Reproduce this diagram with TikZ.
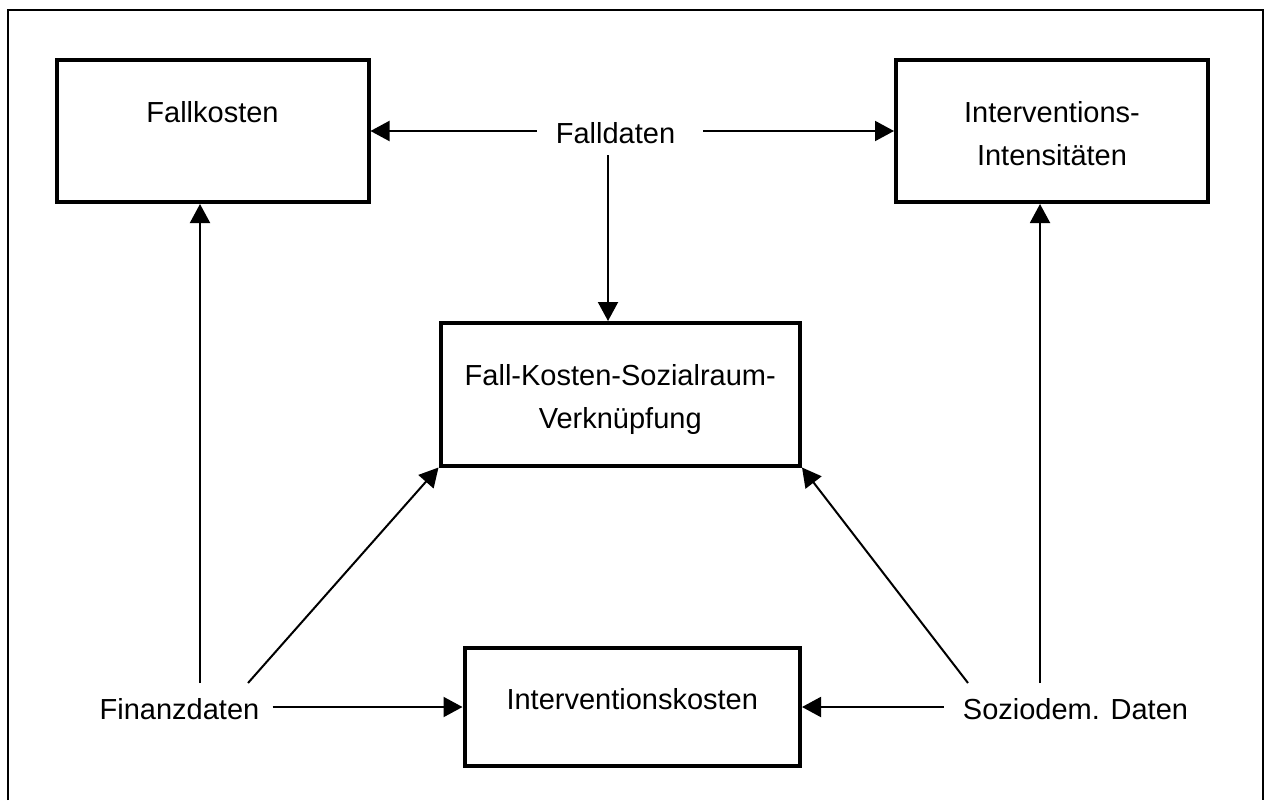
\documentclass[tikz,border=0pt]{standalone}
\usepackage{fontspec}
\setmainfont{Liberation Sans}
\usetikzlibrary{arrows.meta}

\tikzset{
  box/.style={draw, line width=4pt, rectangle, inner sep=0pt, outer sep=2pt},
  boxtext/.style={anchor=base, inner sep=0pt, align=center},
  label/.style={anchor=base, inner sep=0pt},
  arr/.style={line width=2pt, -{Triangle[length=19pt, width=20pt]}},
  frame/.style={line width=2.2pt}
}

\begin{document}
\begin{tikzpicture}[x=1pt, y=-1pt, font=\fontsize{29}{43.5}\selectfont]
  \useasboundingbox (0,0) rectangle (1268,800);

  % surrounding frame, open at the bottom
  \draw[frame] (8,800) -- (8,9.7) -- (1263,9.7) -- (1263,800);

  % boxes
  \node[box, minimum width=312pt, minimum height=142pt] (fk) at (212.5,131) {};
  \node[box, minimum width=312pt, minimum height=142pt] (ii) at (1052,131) {};
  \node[box, minimum width=359.5pt, minimum height=142.5pt] (fks) at (620.25,394.25) {};
  \node[box, minimum width=335.5pt, minimum height=118pt] (ik) at (632.25,707) {};

  % box captions (base anchor = baseline of the last line)
  \node[boxtext] (fk-t) at (212.5,122) {Fallkosten};
  \node[boxtext] (ii-t) at (1052,165.5) {Interventions-\\Intensitäten};
  \node[boxtext] (fks-t) at (620.25,428.5) {Fall-Kosten-Sozialraum-\\Verknüpfung};
  \node[boxtext] (ik-t) at (632.25,709) {Interventionskosten};

  % data sources
  \node[label] (fd) at (615.5,143) {Falldaten};
  \node[label] (fin) at (179.5,719) {Finanzdaten};
  \node[label] (soz) at (1075.5,719) {Soziodem. Daten};

  % connector start points
  \coordinate (fd-down) at (608,155);
  \coordinate (fin-up) at (200,683);
  \coordinate (fin-diag) at (248,683);
  \coordinate (soz-diag) at (968,683);
  \coordinate (soz-up) at (1040,683);

  % connectors
  \draw[arr, shorten <=19pt] (fd.west |- fk.east) -- (fk.east);
  \draw[arr, shorten <=28pt] (fd.east |- ii.west) -- (ii.west);
  \draw[arr] (fd-down) -- (fd-down |- fks.north);

  \draw[arr] (fin-up) -- (fin-up |- fk.south);
  \draw[arr] (fin-diag) -- (fks.south west);
  \draw[arr, shorten <=13pt] (fin.east |- ik.west) -- (ik.west);

  \draw[arr] (soz-up) -- (soz-up |- ii.south);
  \draw[arr] (soz-diag) -- (fks.south east);
  \draw[arr, shorten <=19pt] (soz.west |- ik.east) -- (ik.east);
\end{tikzpicture}
\end{document}
